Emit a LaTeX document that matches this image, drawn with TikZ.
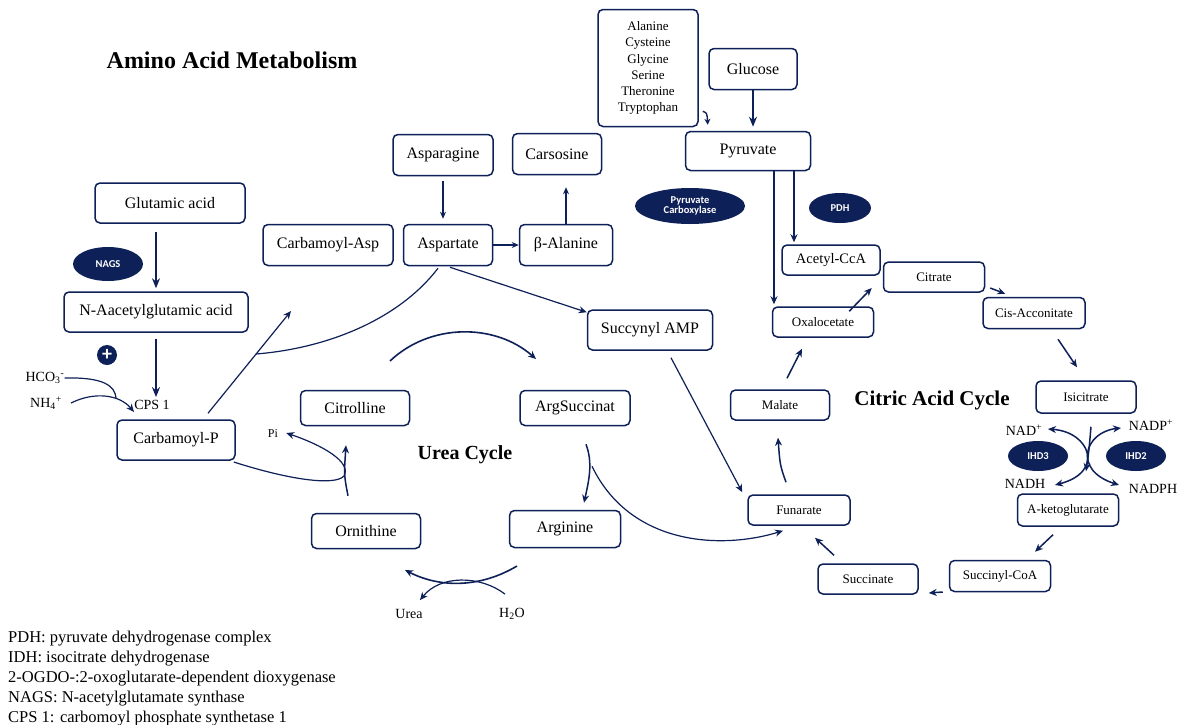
\documentclass[tikz,border=0pt]{standalone}
\usepackage{fontspec}
\setmainfont{Liberation Serif}
\newfontfamily\sansfnt{Carlito}
\usetikzlibrary{arrows.meta,shapes.geometric,calc}
\definecolor{navy}{RGB}{14,32,88}
\newcommand\fsz[1]{\fontsize{#1}{#1}\selectfont}
\tikzset{
  box/.style={draw=navy, line width=1.5pt, rounded corners=5pt, fill=white, inner sep=0pt, align=center, text=black},
  enz/.style={ellipse, fill=navy, text=white, font=\sansfnt\bfseries\fsz{10.5}, inner sep=0pt, align=center},
  arr/.style={draw=navy, line width=1.2pt, -{Stealth[length=8pt,width=7pt]}},
  tarr/.style={draw=navy, line width=2.2pt, -{Stealth[length=10pt,width=8pt]}},
  ln/.style={draw=navy, line width=1.2pt},
  lbl/.style={inner sep=0pt, text=black},
  ttl/.style={inner sep=0pt, font=\bfseries\fsz{21}},
}
\begin{document}
\begin{tikzpicture}[x=1pt,y=-1pt]
\useasboundingbox[fill=white] (0,0) rectangle (1179,724);

% titles
\node[ttl, font=\bfseries\fsz{24}] (t1) at (232,60) {Amino Acid Metabolism};
\node[ttl, font=\bfseries\fsz{20}] (t2) at (465,455) {Urea Cycle};
\node[ttl] (t3) at (932,400) {Citric Acid Cycle};

% left column
\node[box, minimum width=150, minimum height=40, font=\fsz{16}] (glu) at (170,203) {Glutamic acid};
\node[box, minimum width=184, minimum height=40, font=\fsz{16}] (nag) at (156,312) {N-Aacetylglutamic acid};
\node[enz, minimum width=70, minimum height=34] (nags) at (108,264) {NAGS};
\node[circle, fill=navy, text=white, minimum size=20, inner sep=0pt, font=\sansfnt\bfseries\fsz{20}] (plus) at (107,355) {+};
\node[lbl, font=\fsz{14}] (hco) at (45,378) {HCO\textsubscript{3}\textsuperscript{-}};
\node[lbl, font=\fsz{14}] (nh) at (46,403) {NH\textsubscript{4}\textsuperscript{+}};
\node[lbl, font=\fsz{14}] (cps) at (152,405) {CPS 1};
\node[box, minimum width=118, minimum height=40, font=\fsz{16}] (cp) at (176,440) {Carbamoyl-P};

% middle top
\node[box, minimum width=130, minimum height=41, font=\fsz{16}] (casp) at (328,245) {Carbamoyl-Asp};
\node[box, minimum width=89, minimum height=41, font=\fsz{16}] (asp) at (448,245) {Aspartate};
\node[box, minimum width=93, minimum height=41, font=\fsz{16}] (bal) at (566,245) {β-Alanine};
\node[box, minimum width=100, minimum height=41, font=\fsz{16}] (asn) at (443,155) {Asparagine};
\node[box, minimum width=89, minimum height=41, font=\fsz{16}] (car) at (557,154) {Carsosine};
\node[box, minimum width=125, minimum height=40, font=\fsz{16}] (samp) at (650,330) {Succynyl AMP};

% urea cycle
\node[box, minimum width=109, minimum height=35, font=\fsz{16}] (cit) at (355,408) {Citrolline};
\node[box, minimum width=110, minimum height=35, font=\fsz{16}] (ags) at (575,408) {ArgSuccinat};
\node[box, minimum width=109, minimum height=35, font=\fsz{16}] (orn) at (366,531) {Ornithine};
\node[box, minimum width=111, minimum height=37, font=\fsz{16}] (arg) at (565,529) {Arginine};
\node[lbl, font=\fsz{12}] (pi) at (273,434) {Pi};
\node[lbl, font=\fsz{14}] (urea) at (409,614) {Urea};
\node[lbl, font=\fsz{14}] (h2o) at (512,614) {H\textsubscript{2}O};

% top right
\node[box, minimum width=100, minimum height=117, font=\fontsize{13}{16.2}\selectfont] (ala) at (648,68) {Alanine\\Cysteine\\Glycine\\Serine\\Theronine\\Tryptophan};
\node[box, minimum width=88, minimum height=41, font=\fsz{16}] (glc) at (753,69) {Glucose};
\node[box, minimum width=125, minimum height=39, font=\fsz{16}] (pyr) at (748,151) {Pyruvate};
\node[enz, minimum width=110, minimum height=36] (pc) at (690,206) {Pyruvate\\Carboxylase};
\node[enz, minimum width=62, minimum height=30] (pdh) at (840,208) {PDH};

% citric acid cycle
\node[box, minimum width=98, minimum height=30, font=\fsz{14.5}] (ace) at (831,260) {Acetyl-CcA};
\node[box, minimum width=101, minimum height=30, font=\fsz{13}] (citr) at (934,277) {Citrate};
\node[box, minimum width=102, minimum height=31, font=\fsz{13}] (cis) at (1034,313) {Cis-Acconitate};
\node[box, minimum width=101, minimum height=30, font=\fsz{13}] (oxa) at (823,322) {Oxalocetate};
\node[box, minimum width=99, minimum height=30, font=\fsz{13}] (mal) at (780,405) {Malate};
\node[box, minimum width=102, minimum height=30, font=\fsz{13}] (fum) at (799,510) {Funarate};
\node[box, minimum width=100, minimum height=30, font=\fsz{13}] (suc) at (868,579) {Succinate};
\node[box, minimum width=101, minimum height=31, font=\fsz{13}] (scoa) at (1000,576) {Succinyl-CoA};
\node[box, minimum width=101, minimum height=32, font=\fsz{13}] (akg) at (1068,510) {A-ketoglutarate};
\node[box, minimum width=100, minimum height=32, font=\fsz{13}] (isc) at (1086,397) {Isicitrate};
\node[lbl, font=\fsz{14}] (nad) at (1024,430) {NAD\textsuperscript{+}};
\node[lbl, font=\fsz{14}] (nadp) at (1151,425) {NADP\textsuperscript{+}};
\node[lbl, font=\fsz{14}] (nadh) at (1025,484) {NADH};
\node[lbl, font=\fsz{14}] (nadph) at (1153,489) {NADPH};
\node[enz, minimum width=60, minimum height=30] (ihd3) at (1038,456) {IHD3};
\node[enz, minimum width=60, minimum height=30] (ihd2) at (1136,456) {IHD2};

% legend
\node[lbl, anchor=base west, font=\fsz{16.5}] (l1) at (8,642) {PDH: pyruvate dehydrogenase complex};
\node[lbl, anchor=base west, font=\fsz{16.5}] (l2) at (8,662) {IDH: isocitrate dehydrogenase};
\node[lbl, anchor=base west, font=\fsz{16.5}] (l3) at (8,682) {2-OGDO-:2-oxoglutarate-dependent dioxygenase};
\node[lbl, anchor=base west, font=\fsz{16.5}] (l4) at (8,702) {NAGS: N-acetylglutamate synthase};
\node[lbl, anchor=base west, font=\fsz{16.5}] (l5) at (8,722) {CPS 1: carbomoyl phosphate synthetase 1};

% ---- connectors: left
\draw[tarr, shorten <=8pt, shorten >=3pt] (glu.south -| nag.north) -- (nag.north);
\draw[tarr, shorten <=6pt, shorten >=3pt] (nag.south) -- (nag.south |- cps.north);
\coordinate (j1) at (116,398);
\coordinate (cpsin) at (134,412);
\draw[ln] (hco.east) .. controls (104,377) and (115,386) .. (j1);
\draw[arr] ($(nh.east)+(9,0)$) .. controls (95,391) and (120,395) .. (cpsin);
\coordinate (cpa) at (291,311);
\draw[arr] ($(cp.north)+(32,-6)$) -- (cpa);
\coordinate (m1) at (256,354);
\draw[ln] ($(asp.south)+(-10,2)$) .. controls (400,318) and (330,348) .. (m1);

% middle top
\draw[ln, -{Stealth[length=7pt,width=6pt]}, shorten <=5pt, shorten >=5pt] (asn.south) -- (asn.south |- asp.north);
\draw[ln, -{Stealth[length=7pt,width=6pt]}] (asp.east) -- (bal.west);
\draw[ln, -{Stealth[length=7pt,width=6pt]}, shorten >=12pt] (bal.north) -- (bal.north |- car.south);
\draw[arr] ($(asp.south)+(2,1)$) -- ($(samp.north west)+(0,3)$);
\draw[arr] ($(samp.south)+(21,7)$) -- ($(fum.north west)+(-5,-2)$);

% urea cycle
\coordinate (ua1) at (390,361);
\coordinate (ua2) at (536,359);
\draw[arr, line width=1.6pt] (ua1) .. controls (430,323) and (495,323) .. (ua2);
\draw[arr, line width=1.5pt] ($(ags.south)+(11,18)$) .. controls (593,463) and (589,480) .. ($(arg.north)+(19,-7)$);
\draw[arr] ($(ags.south)+(17,40)$) .. controls (630,545) and (720,550) .. ($(fum.south)+(-16,5)$);
\draw[arr, line width=1.5pt] ($(orn.north)+(-18,-17)$) .. controls (344,475) .. ($(cit.south)+(-9,19)$);
\draw[arr] ($(cp.east)+(-2,22)$) .. controls (290,480) and (335,486) .. (344,476) .. controls (352,462) and (322,445) .. ($(pi.east)+(8,-1)$);
\coordinate (ub1) at (517,566);
\coordinate (ub2) at (405,570);
\draw[arr, line width=1.6pt] (ub1) .. controls (480,588) and (440,588) .. (ub2);
\draw[arr] ($(h2o.north)+(-7,-14)$) .. controls (480,575) and (440,575) .. ($(urea.north)+(11,-9)$);

% top right
\draw[arr, line width=1.4pt, -{Stealth[length=6pt,width=6pt]}] ($(ala.south east)+(4,-16)$) .. controls (707,113) .. ($(pyr.north west)+(23,-6)$);
\draw[tarr, line width=1.8pt, shorten >=4pt] (glc.south) -- (glc.south |- pyr.north);
\coordinate (p1) at ($(pyr.south)+(26,0)$);
\coordinate (p2) at ($(pyr.south)+(46,0)$);
\draw[arr, shorten >=2pt] (p1) -- (p1 |- oxa.north);
\draw[arr, shorten >=2pt] (p2) -- (p2 |- ace.north);

% citric cycle arrows
\draw[arr, line width=1.5pt] ($(oxa.north east)+(-25,5)$) -- ($(citr.west)+(-11,11)$);
\draw[arr, line width=1.5pt] ($(citr.east)+(5,11)$) -- ($(cis.north west)+(23,-3)$);
\draw[arr, line width=1.5pt] ($(cis.south)+(24,10)$) -- ($(isc.north)+(-9,-13)$);
\draw[arr, line width=1.5pt] ($(isc.south)+(5,13)$) .. controls (1089,450) .. ($(akg.north)+(18,-22)$);
\coordinate (n1) at (1048,429);
\coordinate (n2) at (1055,485);
\draw[line width=1.5pt, draw=navy, {Stealth[length=8pt,width=7pt]}-{Stealth[length=8pt,width=7pt]}] (n1) .. controls (1090,432) and (1105,472) .. (n2);
\coordinate (q1) at (1121,428);
\coordinate (q2) at (1119,485);
\draw[line width=1.5pt, draw=navy, {Stealth[length=8pt,width=7pt]}-{Stealth[length=8pt,width=7pt]}] (q1) .. controls (1085,432) and (1072,470) .. (q2);
\draw[arr, line width=1.5pt] ($(akg.south)+(-15,8)$) -- ($(scoa.north)+(35,-8)$);
\draw[arr, line width=1.5pt] ($(scoa.west)+(-6,16)$) -- ($(suc.east)+(10,14)$);
\draw[arr, line width=1.5pt] ($(suc.north)+(-34,-8)$) -- ($(fum.south)+(16,12)$);
\draw[arr, line width=1.5pt] ($(fum.north)+(-13,-12)$) .. controls (780,465) .. ($(mal.south)+(-2,17)$);
\draw[arr, line width=1.5pt] ($(mal.north)+(7,-11)$) -- ($(oxa.south)+(-21,11)$);
\end{tikzpicture}
\end{document}
